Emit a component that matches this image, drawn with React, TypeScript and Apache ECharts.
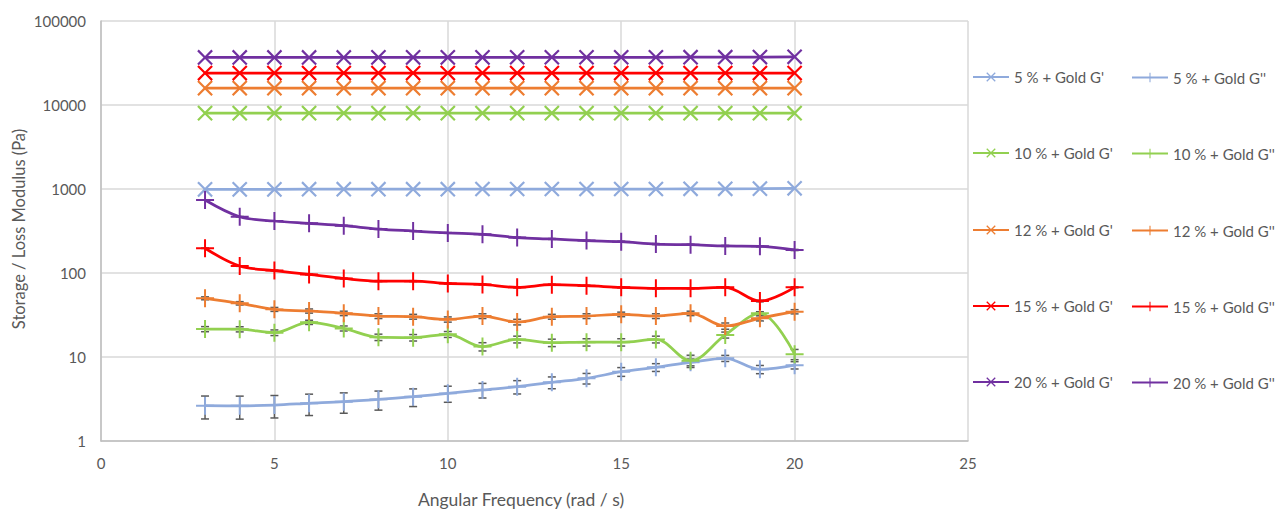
import React, { useEffect, useRef } from "react";
import * as echarts from "echarts";

const freq = [3, 4, 5, 6, 7, 8, 9, 10, 11, 12, 13, 14, 15, 16, 17, 18, 19, 20];

// Storage modulus G'
const g5 = [990, 990, 990, 995, 995, 995, 995, 995, 1000, 1000, 1000, 1000, 1000, 1000, 1005, 1005, 1010, 1020];
const g10 = [8000, 8000, 8000, 8000, 8000, 8000, 8000, 8000, 8000, 8000, 8000, 8000, 8000, 8000, 8000, 8000, 8000, 8000];
const g12 = [15900, 15900, 15900, 15900, 15900, 15900, 15900, 15900, 15900, 15900, 15900, 15900, 15900, 15900, 15900, 15900, 15900, 15900];
const g15 = [24000, 24000, 24000, 24000, 24000, 24000, 24000, 24000, 24000, 24000, 24000, 24000, 24000, 24000, 24000, 24000, 24000, 24000];
const g20 = [36800, 36800, 36800, 36800, 36800, 36900, 36900, 36900, 36900, 37000, 37000, 37000, 37000, 37000, 37100, 37100, 37200, 37500];

// Loss modulus G''
const l5 = [2.63, 2.62, 2.68, 2.81, 2.94, 3.13, 3.37, 3.69, 4.05, 4.43, 4.99, 5.57, 6.68, 7.53, 8.65, 9.65, 7.13, 8.0];
const l10 = [21.5, 21.4, 19.5, 25.9, 21.9, 17.2, 17.0, 18.6, 13.3, 16.2, 14.8, 15.0, 15.0, 16.2, 9.0, 18.3, 33.1, 10.8];
const l12 = [50, 43.6, 36.9, 35.3, 33.1, 30.7, 30.2, 28, 30.7, 26.1, 30.2, 30.7, 32.2, 30.7, 33.1, 23.4, 28.9, 34.6];
const l15 = [197, 121, 107, 96, 86, 80, 80, 75, 73, 67.5, 72.6, 70.6, 67.5, 65.7, 65.7, 67.5, 46.4, 67.5];
const l20 = [740, 468, 416, 390, 366, 334, 316, 300, 289, 264, 254, 243, 236, 221, 217, 210, 208, 188];

// Error (+/-) for G''
const e5 = [0.8, 0.8, 0.8, 0.8, 0.8, 0.8, 0.8, 0.8, 0.8, 0.8, 0.8, 0.8, 0.8, 0.8, 0.8, 0.8, 0.8, 0.8];
const e10 = [1.5, 1.5, 1.5, 1.5, 1.5, 1.5, 1.5, 1.5, 1.5, 1.5, 1.5, 1.5, 1.5, 1.5, 1.5, 1.5, 1.5, 1.5];
const e12 = [2, 2, 2, 2, 2, 2, 2, 2, 2, 2, 2, 2, 2, 2, 2, 2, 2, 2];
const e15 = [1, 1, 1, 1, 1, 1, 1, 1, 1, 1, 1, 1, 1, 1, 1, 1, 1, 1];
const e20 = [3, 3, 3, 3, 3, 3, 3, 3, 3, 3, 3, 3, 3, 3, 3, 3, 3, 3];

const yTicks = [1, 10, 100, 1000, 10000, 100000];
const xTicks = [0, 5, 10, 15, 20, 25];
const xTitle = "Angular Frequency (rad / s)";
const yTitle = "Storage / Loss Modulus (Pa)";

const groups = [
  { label: "5 %", color: "#8FAADC", gp: g5, gpp: l5, err: e5 },
  { label: "10 %", color: "#92D050", gp: g10, gpp: l10, err: e10 },
  { label: "12 %", color: "#ED7D31", gp: g12, gpp: l12, err: e12 },
  { label: "15 %", color: "#FF0000", gp: g15, gpp: l15, err: e15 },
  { label: "20 %", color: "#7030A0", gp: g20, gpp: l20, err: e20 },
];

const PLUS =
  "path://M-0.11,-1 L0.11,-1 L0.11,-0.11 L1,-0.11 L1,0.11 L0.11,0.11 L0.11,1 L-0.11,1 L-0.11,0.11 L-1,0.11 L-1,-0.11 L-0.11,-0.11 Z";

const FONT = "Lato";
const TXT = "#595959";

export default function App() {
  const ref = useRef<HTMLDivElement>(null);
  useEffect(() => {
    document.body.style.margin = "0";
    const chart = echarts.init(ref.current!, null, { renderer: "svg" });
    const series: any[] = [];
    const legends: any[] = [];
    const rowCenters = [76, 152, 229, 305, 381];
    groups.forEach((g, i) => {
      const nameP = `${g.label} + Gold G'`;
      const namePP = `${g.label} + Gold G''`;
      series.push({
        name: nameP,
        type: "line",
        data: freq.map((f, k) => [f, g.gp[k]]),
        symbol: PLUS,
        symbolSize: 20,
        symbolRotate: 45,
        itemStyle: { color: g.color },
        lineStyle: { color: g.color, width: 2.75 },
        z: 3,
      });
      series.push({
        name: namePP,
        type: "line",
        smooth: 0.35,
        data: freq.map((f, k) => [f, g.gpp[k]]),
        symbol: PLUS,
        symbolSize: 18,
        itemStyle: { color: g.color },
        lineStyle: { color: g.color, width: 2.75 },
        z: 3,
      });
      series.push({
        type: "custom",
        name: namePP + " err",
        data: freq.map((f, k) => [f, g.gpp[k] - g.err[k], g.gpp[k] + g.err[k]]),
        z: 2,
        silent: true,
        renderItem: (params: any, api: any) => {
          const x = api.value(0);
          const lo = api.coord([x, api.value(1)]);
          const hi = api.coord([x, api.value(2)]);
          const c = 4;
          const st = { stroke: "#595959", lineWidth: 1.5 };
          return {
            type: "group",
            children: [
              { type: "line", shape: { x1: lo[0], y1: lo[1], x2: hi[0], y2: hi[1] }, style: st },
              { type: "line", shape: { x1: lo[0] - c, y1: lo[1], x2: lo[0] + c, y2: lo[1] }, style: st },
              { type: "line", shape: { x1: hi[0] - c, y1: hi[1], x2: hi[0] + c, y2: hi[1] }, style: st },
            ],
          };
        },
      });
      const common = {
        orient: "horizontal",
        itemWidth: 36,
        itemGap: 0,
        padding: 0,
        textStyle: { color: TXT, fontSize: 15, fontFamily: FONT },
        selectedMode: false,
      };
      legends.push({ ...common, left: 972, itemHeight: 15, top: rowCenters[i] - 7.5, data: [nameP] });
      legends.push({ ...common, left: 1131, itemHeight: 12, top: rowCenters[i] - 6, data: [namePP] });
    });

    chart.setOption({
      animation: false,
      legend: legends,
      graphic: [
        {
          type: "text",
          x: 521,
          y: 499,
          style: {
            text: xTitle,
            fill: TXT,
            font: `17.5px ${FONT}`,
            align: "center",
            verticalAlign: "middle",
          },
        },
        {
          type: "text",
          x: 19,
          y: 229,
          rotation: Math.PI / 2,
          style: {
            text: yTitle,
            fill: TXT,
            font: `16.5px ${FONT}`,
            align: "center",
            verticalAlign: "middle",
          },
        },
      ],
      grid: { left: 101, top: 21, right: 311, bottom: 70, containLabel: false },
      xAxis: {
        type: "value",
        min: xTicks[0],
        max: xTicks[xTicks.length - 1],
        interval: 5,
        axisLine: { lineStyle: { color: "#BFBFBF", width: 1.5 } },
        axisTick: { show: false },
        axisLabel: { color: TXT, fontSize: 15, fontFamily: FONT, margin: 14 },
        splitLine: { show: true, lineStyle: { color: "#D9D9D9", width: 1.5 } },
      },
      yAxis: {
        type: "log",
        logBase: 10,
        min: yTicks[0],
        max: yTicks[yTicks.length - 1],
        axisLine: { show: true, lineStyle: { color: "#BFBFBF", width: 1.5 } },
        axisTick: { show: false },
        axisLabel: {
          color: TXT,
          fontSize: 15,
          fontFamily: FONT,
          margin: 15,
          formatter: (v: number) => String(Math.round(v)),
        },
        splitLine: { show: true, lineStyle: { color: "#D9D9D9", width: 1.5 } },
      },
      series,
    });
    return () => chart.dispose();
  }, []);
  return <div ref={ref} style={{ width: 1279, height: 511 }} />;
}
